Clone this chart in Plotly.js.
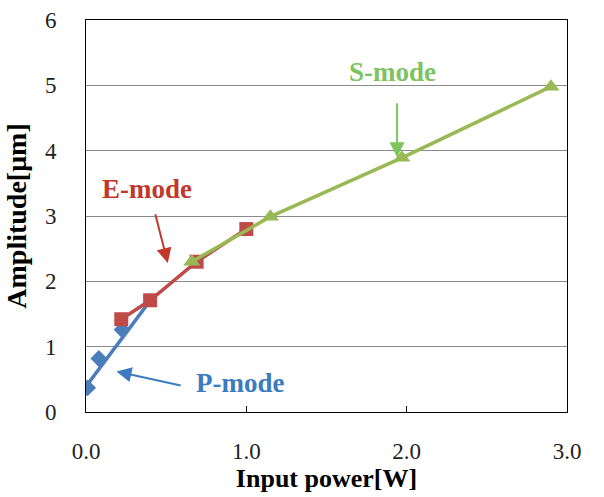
<!DOCTYPE html>
<html><head><meta charset="utf-8">
<script src="https://cdn.plot.ly/plotly-3.0.1.min.js"></script>
<style>body{margin:0;background:#fff}#c{width:604px;height:497px}</style>
</head><body><div id="c"></div>
<script>
var pX = [0.01, 0.08, 0.225];
var pY = [0.37, 0.82, 1.26];
var pFitX = [0.0, 0.42];
var pFitY = [0.39, 1.77];
var eX = [0.22, 0.40, 0.69, 1.00];
var eY = [1.42, 1.71, 2.30, 2.80];
var sX = [0.66, 1.15, 1.97, 2.90];
var sY = [2.30, 2.99, 3.89, 4.98];
var xTicks = [0, 1, 2, 3];
var xTickText = ['0.0', '1.0', '2.0', '3.0'];
var yTicks = [0, 1, 2, 3, 4, 5, 6];

var blue = '#4A7EBB', red = '#BE4B48', green = '#98B954';
var traces = [
  {x: pFitX, y: pFitY, mode: 'lines', line: {color: blue, width: 3.5}},
  {x: pX, y: pY, mode: 'markers', marker: {symbol: 'diamond', size: 13, color: blue}},
  {x: eX, y: eY, mode: 'lines+markers', line: {color: red, width: 3.5},
   marker: {symbol: 'square', size: 14, color: red}},
  {x: sX, y: sY, mode: 'lines+markers', line: {color: green, width: 3.5},
   marker: {symbol: 'triangle-up', size: 15, color: green}}
];
var ff = 'Liberation Serif, Times New Roman, serif';
var tf = {family: ff, size: 23, color: '#222'};
var layout = {
  width: 604, height: 497,
  margin: {l: 86, r: 37, t: 20, b: 85},
  showlegend: false,
  paper_bgcolor: '#fff', plot_bgcolor: '#fff',
  xaxis: {range: [0, 3], tickvals: xTicks, ticktext: xTickText, showgrid: false,
    zeroline: false, showline: true, mirror: true, linecolor: '#000', linewidth: 1,
    ticks: 'inside', ticklen: 6, tickcolor: '#000', tickfont: tf, ticklabelstandoff: 18,
    title: {text: '<b>Input power[W]</b>', font: {family: ff, size: 26, color: '#000'}, standoff: 2}},
  yaxis: {range: [0, 6], tickvals: yTicks, showgrid: true, gridcolor: '#8a8a8a', gridwidth: 1,
    zeroline: false, showline: true, mirror: true, linecolor: '#000', linewidth: 1,
    ticks: '', tickfont: tf, ticklabelstandoff: 24,
    title: {text: '<b>Amplitude[μm]</b>', font: {family: ff, size: 28, color: '#000'}, standoff: 10}},
  annotations: [
    {x: 1.94, y: 3.9, ax: 1.94, ay: 4.75, xref: 'x', yref: 'y', axref: 'x', ayref: 'y',
     showarrow: true, arrowhead: 2, arrowsize: 1.5, arrowwidth: 2, arrowcolor: '#7DC65E', text: ''},
    {x: 1.91, y: 5.2, xref: 'x', yref: 'y', text: '<b>S-mode</b>', showarrow: false,
     font: {family: ff, size: 27, color: '#7DC460'}},
    {x: 0.51, y: 2.28, ax: 0.43, ay: 3.05, xref: 'x', yref: 'y', axref: 'x', ayref: 'y',
     showarrow: true, arrowhead: 2, arrowsize: 1.5, arrowwidth: 2, arrowcolor: '#C0392B', text: ''},
    {x: 0.38, y: 3.41, xref: 'x', yref: 'y', text: '<b>E-mode</b>', showarrow: false,
     font: {family: ff, size: 27, color: '#C0392B'}},
    {x: 0.19, y: 0.62, ax: 0.6, ay: 0.4, xref: 'x', yref: 'y', axref: 'x', ayref: 'y',
     showarrow: true, arrowhead: 2, arrowsize: 1.5, arrowwidth: 2, arrowcolor: '#3B7CC0', text: ''},
    {x: 0.96, y: 0.45, xref: 'x', yref: 'y', text: '<b>P-mode</b>', showarrow: false,
     font: {family: ff, size: 27, color: '#3B7CC0'}}
  ]
};
Plotly.newPlot('c', traces, layout, {staticPlot: true});
</script></body></html>
